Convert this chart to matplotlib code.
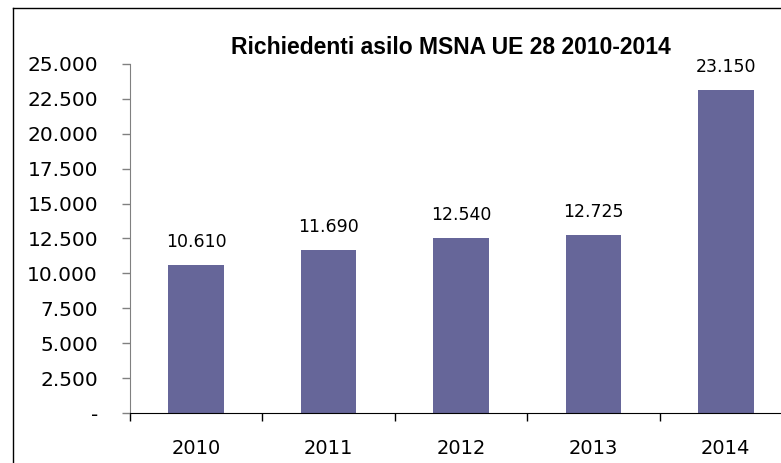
import matplotlib
matplotlib.use("Agg")
import matplotlib.pyplot as plt
from matplotlib.ticker import FuncFormatter, FixedLocator
from matplotlib.lines import Line2D

years = ["2010", "2011", "2012", "2013", "2014"]
richiedenti = [10610, 11690, 12540, 12725, 23150]
y_ticks = [0, 2500, 5000, 7500, 10000, 12500, 15000, 17500, 20000, 22500, 25000]

BAR_COLOR = "#666699"
TICK_FONT = "DejaVu Sans"


def fmt_it(v, pos=None):
    if v == 0:
        return "-"
    return f"{v:,.0f}".replace(",", ".")


def main():
    fig = plt.figure(figsize=(7.81, 4.63), dpi=100)
    ax = fig.add_axes([130 / 781, 1 - 413 / 463, 662 / 781, 349 / 463])

    x = list(range(len(years)))
    ax.bar(x, richiedenti, width=0.42, color=BAR_COLOR, zorder=2)
    for xi, v in zip(x, richiedenti):
        ax.text(xi, v + 1000, fmt_it(v), ha="center", va="bottom",
                fontsize=12.5, family=TICK_FONT, color="black")

    ax.set_xlim(-0.5, 4.5)
    ax.set_ylim(0, 25000)
    ax.set_yticks(y_ticks)
    ax.yaxis.set_major_formatter(FuncFormatter(fmt_it))
    ax.set_xticks(x)
    ax.set_xticklabels(years)
    ax.xaxis.set_minor_locator(FixedLocator([i - 0.5 for i in range(len(years) + 1)]))

    # sizes below in points (1px = 0.72pt at 100 dpi)
    ax.tick_params(axis="x", which="major", length=0, pad=19, labelsize=14)
    ax.tick_params(axis="x", which="minor", length=6, width=1, color="black", direction="out")
    ax.tick_params(axis="y", length=6, width=1, color="#808080", pad=17, labelsize=14.5)
    for lab in ax.get_xticklabels() + ax.get_yticklabels():
        lab.set_family(TICK_FONT)

    for side in ["top", "right"]:
        ax.spines[side].set_visible(False)
    ax.spines["left"].set_color("#808080")
    ax.spines["bottom"].set_color("black")

    ax.text(451 / 781, 1 - 48 / 463, "Richiedenti asilo MSNA UE 28 2010-2014",
            transform=fig.transFigure, ha="center", va="center",
            fontsize=16.5, fontweight="bold", family="Liberation Sans")

    # outer chart frame (only left and top are inside the picture)
    fig.add_artist(Line2D([13 / 781, 13 / 781], [0, 1 - 8 / 463], transform=fig.transFigure,
                          color="black", lw=1))
    fig.add_artist(Line2D([13 / 781, 1], [1 - 8 / 463, 1 - 8 / 463], transform=fig.transFigure,
                          color="black", lw=1))

    fig.savefig("out.png", dpi=100)


if __name__ == "__main__":
    main()
